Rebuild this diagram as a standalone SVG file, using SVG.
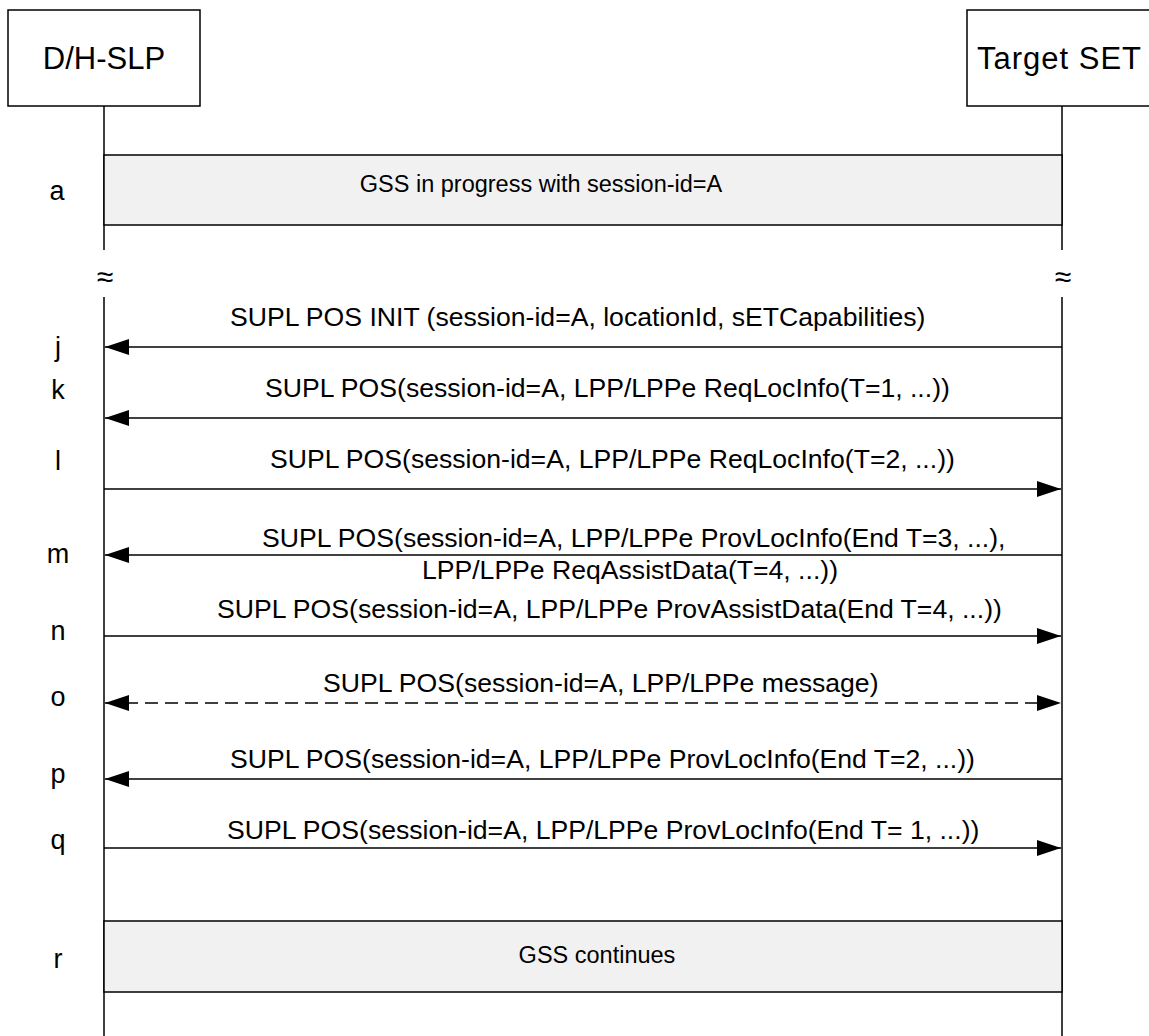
<svg xmlns="http://www.w3.org/2000/svg" width="1149" height="1036" viewBox="0 0 1149 1036">
<defs>
<style>
.t{font-family:"Liberation Sans",Arial,sans-serif;fill:#000}
.title{font-size:31px}
.lbl{font-size:27px;text-anchor:middle}
.msg{font-size:26.6px}
.gtx{font-size:23.5px}
.ln{stroke:#000;stroke-width:1.5;fill:none}
.box{fill:#fff;stroke:#000;stroke-width:1.5}
.gss{fill:#f1f1f1;stroke:#000;stroke-width:1.5}
</style>
<marker id="ah" viewBox="0 0 24 16" refX="24" refY="8" markerWidth="24" markerHeight="16" markerUnits="userSpaceOnUse" orient="auto-start-reverse">
<path d="M0,0 L24,8 L0,16 Z" fill="#000"/>
</marker>
</defs>
<rect width="1149" height="1036" fill="#fff"/>
<g id="node-dhslp">
<rect class="box" x="8" y="10" width="192" height="96"/>
<text class="t title" x="104" y="69" text-anchor="middle">D/H-SLP</text>
</g>
<g id="node-target-set">
<rect class="box" x="967" y="10" width="192" height="96"/>
<text class="t title" x="977" y="69" textLength="164">Target SET</text>
</g>
<g id="lifelines">
<path class="ln" d="M104,106 V250 M104,297 V1036 M1062,106 V250 M1062,297 V1036"/>
<text class="t" x="105" y="287" font-size="30" text-anchor="middle">≈</text>
<text class="t" x="1063" y="287" font-size="30" text-anchor="middle">≈</text>
</g>
<g id="node-a">
<rect class="gss" x="104" y="155" width="958" height="70"/>
<text class="t gtx" x="541" y="192" text-anchor="middle">GSS in progress with session-id=A</text>
</g>
<g id="node-r">
<rect class="gss" x="104" y="921" width="958" height="71"/>
<text class="t gtx" x="597" y="963" text-anchor="middle">GSS continues</text>
</g>
<g id="step-labels">
<text class="t lbl" x="57" y="200">a</text>
<text class="t lbl" x="58" y="356">j</text>
<text class="t lbl" x="58" y="399">k</text>
<text class="t lbl" x="58" y="470">l</text>
<text class="t lbl" x="58" y="563">m</text>
<text class="t lbl" x="58" y="640">n</text>
<text class="t lbl" x="58" y="706">o</text>
<text class="t lbl" x="58" y="783">p</text>
<text class="t lbl" x="58" y="849">q</text>
<text class="t lbl" x="58" y="968">r</text>
</g>
<g id="connectors">
<line class="ln" x1="1062" y1="347" x2="105" y2="347" marker-end="url(#ah)"/>
<text class="t msg" x="230" y="326">SUPL POS INIT (session-id=A, locationId, sETCapabilities)</text>
<line class="ln" x1="1062" y1="418" x2="105" y2="418" marker-end="url(#ah)"/>
<text class="t msg" x="265" y="397" font-size="27.6">SUPL POS(session-id=A, LPP/LPPe ReqLocInfo(T=1, ...))</text>
<line class="ln" x1="104" y1="489" x2="1061" y2="489" marker-end="url(#ah)"/>
<text class="t msg" x="270" y="468">SUPL POS(session-id=A, LPP/LPPe ReqLocInfo(T=2, ...))</text>
<line class="ln" x1="1062" y1="555" x2="105" y2="555" marker-end="url(#ah)"/>
<text class="t msg" x="262" y="547">SUPL POS(session-id=A, LPP/LPPe ProvLocInfo(End T=3, ...),</text>
<text class="t msg" x="838" y="579" font-size="27" text-anchor="end">LPP/LPPe ReqAssistData(T=4, ...))</text>
<line class="ln" x1="104" y1="636" x2="1061" y2="636" marker-end="url(#ah)"/>
<text class="t msg" x="217" y="618">SUPL POS(session-id=A, LPP/LPPe ProvAssistData(End T=4, ...))</text>
<line class="ln" x1="105" y1="703" x2="1061" y2="703" stroke-dasharray="13,7" marker-start="url(#ah)" marker-end="url(#ah)"/>
<text class="t msg" x="323" y="692">SUPL POS(session-id=A, LPP/LPPe message)</text>
<line class="ln" x1="1062" y1="779" x2="105" y2="779" marker-end="url(#ah)"/>
<text class="t msg" x="230" y="768">SUPL POS(session-id=A, LPP/LPPe ProvLocInfo(End T=2, ...))</text>
<line class="ln" x1="104" y1="848" x2="1061" y2="848" marker-end="url(#ah)"/>
<text class="t msg" x="227" y="839">SUPL POS(session-id=A, LPP/LPPe ProvLocInfo(End T= 1, ...))</text>
</g>
</svg>
